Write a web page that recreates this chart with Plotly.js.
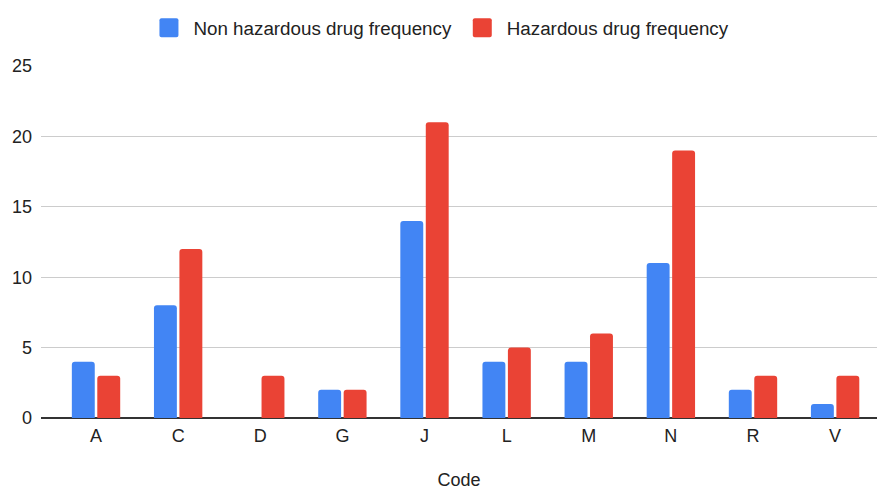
<!DOCTYPE html>
<html>
<head>
<meta charset="utf-8">
<script src="https://cdn.plot.ly/plotly-3.0.1.min.js"></script>
<style>html,body{margin:0;padding:0;background:#fff;}#chart{width:878px;height:490px;}</style>
</head>
<body>
<div id="chart"></div>
<script>
const categories = ["A", "C", "D", "G", "J", "L", "M", "N", "R", "V"];
const nonHazardous = [4, 8, 0, 2, 14, 4, 4, 11, 2, 1];
const hazardous = [3, 12, 3, 2, 21, 5, 6, 19, 3, 3];
const yTicks = [0, 5, 10, 15, 20, 25];

const traces = [
  {type: "bar", x: categories, y: nonHazardous, name: "Non hazardous drug frequency  ",
   marker: {color: "#4285F4", cornerradius: 3}, hoverinfo: "y"},
  {type: "bar", x: categories, y: hazardous, name: "Hazardous drug frequency",
   marker: {color: "#EA4335", cornerradius: 3}, hoverinfo: "y"}
];

const FONT = "'Liberation Sans', Arial, sans-serif";
const layout = {
  width: 878, height: 490,
  margin: {l: 41, r: 1, t: 66, b: 72},
  paper_bgcolor: "#fff", plot_bgcolor: "#fff",
  font: {family: FONT, size: 17, color: "#222"},
  barmode: "group", bargap: 0.38, bargroupgap: 0.1,
  showlegend: true,
  legend: {orientation: "h", x: 0.482, xanchor: "center", y: 1.108, yanchor: "middle",
           font: {family: FONT, size: 18.8, color: "#222"}, itemwidth: 30, tracegroupgap: 0},
  xaxis: {type: "category", range: [-0.67, 9.51], showgrid: false, ticks: "",
          tickfont: {family: FONT, size: 18, color: "#222"}, ticklabelstandoff: 5,
          title: {text: "Code", font: {family: FONT, size: 18, color: "#222"}, standoff: 38},
          showline: false, zeroline: false, fixedrange: true},
  yaxis: {range: [0, 25], tickvals: yTicks, ticktext: yTicks.map(String),
          showgrid: true, gridcolor: "#cccccc", gridwidth: 1,
          zeroline: true, zerolinecolor: "#333333", zerolinewidth: 2,
          tickfont: {family: FONT, size: 18, color: "#222"}, ticks: "", ticklabelstandoff: 8,
          showline: false, fixedrange: true}
};
Plotly.newPlot("chart", traces, layout, {displayModeBar: false, staticPlot: true}).then(function (gd) {
  // enlarge legend swatches to match the reference's larger rounded squares
  gd.querySelectorAll(".legendpoints path").forEach(function (p) {
    p.setAttribute("d", "M5,7.5C5,8.6 4.1,9.5 3,9.5H-12C-13.1,9.5 -14,8.6 -14,7.5V-7.5C-14,-8.6 -13.1,-9.5 -12,-9.5H3C4.1,-9.5 5,-8.6 5,-7.5Z");
  });
});
</script>
</body>
</html>
